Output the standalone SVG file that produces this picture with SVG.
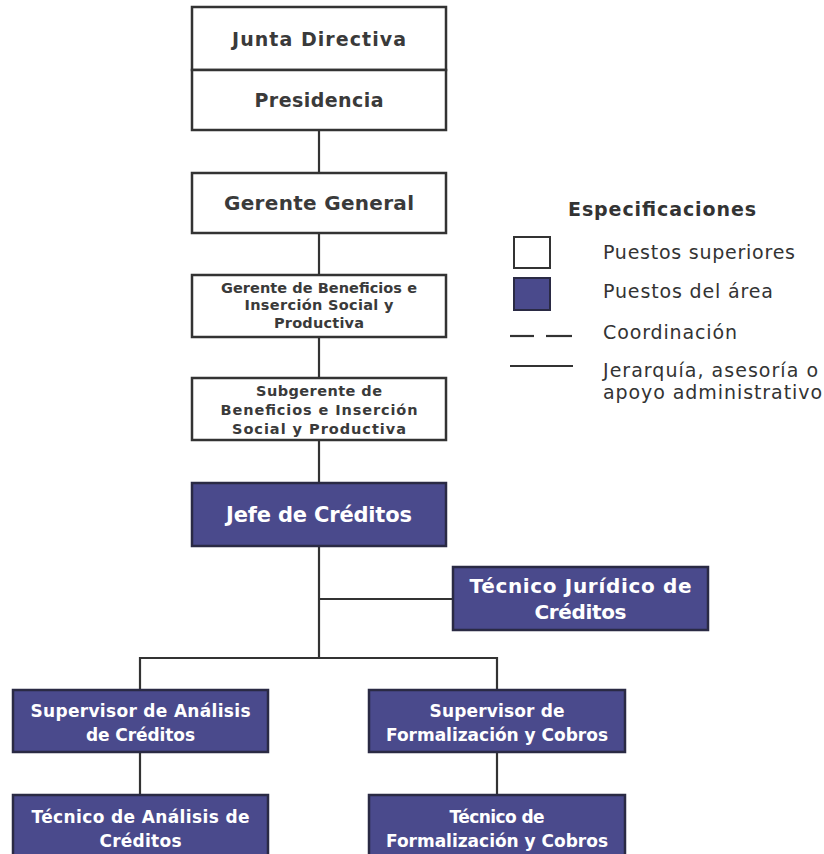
<svg xmlns="http://www.w3.org/2000/svg" width="824" height="854" viewBox="0 0 824 854">
<style>
.w{fill:#ffffff;stroke:#333333;stroke-width:2.5}
.b{fill:#4a4a8c;stroke:#2a2a44;stroke-width:2.5}
.tw{font-family:"DejaVu Sans","Liberation Sans",sans-serif;font-weight:bold;fill:#3a3a3a;text-anchor:middle}
.tb{font-family:"DejaVu Sans","Liberation Sans",sans-serif;font-weight:bold;fill:#ffffff;text-anchor:middle}
.lg{font-family:"DejaVu Sans","Liberation Sans",sans-serif;fill:#333333;font-size:19px}
.c{stroke:#333333;stroke-width:2.2;fill:none}
</style>
<rect width="824" height="854" fill="#ffffff"/>
<g id="connectors">
<line class="c" x1="319" y1="130" x2="319" y2="173"/>
<line class="c" x1="319" y1="233" x2="319" y2="275"/>
<line class="c" x1="319" y1="337" x2="319" y2="378"/>
<line class="c" x1="319" y1="440" x2="319" y2="483"/>
<line class="c" x1="319" y1="546" x2="319" y2="658"/>
<line class="c" x1="319" y1="599" x2="453" y2="599"/>
<line class="c" x1="140" y1="658" x2="497" y2="658"/>
<line class="c" x1="140" y1="657" x2="140" y2="690"/>
<line class="c" x1="497" y1="657" x2="497" y2="690"/>
<line class="c" x1="140" y1="752" x2="140" y2="795"/>
<line class="c" x1="497" y1="752" x2="497" y2="795"/>
</g>
<g id="junta">
<rect class="w" x="192" y="7" width="254" height="63"/>
<text class="tw" x="319" y="46" font-size="19" textLength="174" lengthAdjust="spacing">Junta Directiva</text>
</g>
<g id="presidencia">
<rect class="w" x="192" y="70" width="254" height="60"/>
<text class="tw" x="319" y="107" font-size="19" textLength="129" lengthAdjust="spacing">Presidencia</text>
</g>
<g id="gerente-general">
<rect class="w" x="192" y="173" width="254" height="60"/>
<text class="tw" x="319" y="210" font-size="20" textLength="190" lengthAdjust="spacing">Gerente General</text>
</g>
<g id="gerente-beneficios">
<rect class="w" x="192" y="275" width="254" height="62"/>
<text class="tw" x="319" y="293" font-size="14.5" textLength="196" lengthAdjust="spacing">Gerente de Beneficios e</text>
<text class="tw" x="319" y="310" font-size="14.5" textLength="149" lengthAdjust="spacing">Inserción Social y</text>
<text class="tw" x="319" y="328" font-size="14.5" textLength="90" lengthAdjust="spacing">Productiva</text>
</g>
<g id="subgerente">
<rect class="w" x="192" y="378" width="254" height="62"/>
<text class="tw" x="319" y="396" font-size="14.5" textLength="126" lengthAdjust="spacing">Subgerente de</text>
<text class="tw" x="319" y="415" font-size="14.5" textLength="197" lengthAdjust="spacing">Beneficios e Inserción</text>
<text class="tw" x="319" y="434" font-size="14.5" textLength="174" lengthAdjust="spacing">Social y Productiva</text>
</g>
<g id="jefe-creditos">
<rect class="b" x="192" y="483" width="254" height="63"/>
<text class="tb" x="319" y="522" font-size="21" textLength="186" lengthAdjust="spacing">Jefe de Créditos</text>
</g>
<g id="tecnico-juridico">
<rect class="b" x="453" y="567" width="255" height="63"/>
<text class="tb" x="580.5" y="593" font-size="20" textLength="222" lengthAdjust="spacing">Técnico Jurídico de</text>
<text class="tb" x="580.5" y="619" font-size="20" textLength="92" lengthAdjust="spacing">Créditos</text>
</g>
<g id="supervisor-analisis">
<rect class="b" x="13" y="690" width="255" height="62"/>
<text class="tb" x="140.5" y="717" font-size="17" textLength="220" lengthAdjust="spacing">Supervisor de Análisis</text>
<text class="tb" x="140.5" y="741" font-size="17" textLength="109" lengthAdjust="spacing">de Créditos</text>
</g>
<g id="supervisor-formalizacion">
<rect class="b" x="369" y="690" width="256" height="62"/>
<text class="tb" x="497" y="717" font-size="17" textLength="135" lengthAdjust="spacing">Supervisor de</text>
<text class="tb" x="497" y="741" font-size="17" textLength="222" lengthAdjust="spacing">Formalización y Cobros</text>
</g>
<g id="tecnico-analisis">
<rect class="b" x="13" y="795" width="255" height="64"/>
<text class="tb" x="140.5" y="823" font-size="17" textLength="218" lengthAdjust="spacing">Técnico de Análisis de</text>
<text class="tb" x="140.5" y="847" font-size="17" textLength="82" lengthAdjust="spacing">Créditos</text>
</g>
<g id="tecnico-formalizacion">
<rect class="b" x="369" y="795" width="256" height="64"/>
<text class="tb" x="497" y="823" font-size="17" textLength="95" lengthAdjust="spacing">Técnico de</text>
<text class="tb" x="497" y="847" font-size="17" textLength="222" lengthAdjust="spacing">Formalización y Cobros</text>
</g>
<g id="legend">
<text class="lg" x="568" y="216" font-weight="bold" font-size="18" textLength="188" lengthAdjust="spacing">Especificaciones</text>
<rect x="514" y="237" width="36" height="31" fill="#ffffff" stroke="#333333" stroke-width="2"/>
<rect x="514" y="278" width="36" height="32" fill="#4a4a8c" stroke="#2a2a44" stroke-width="2"/>
<line x1="510" y1="336" x2="534" y2="336" stroke="#333333" stroke-width="2.2"/>
<line x1="546" y1="336" x2="572" y2="336" stroke="#333333" stroke-width="2.2"/>
<line x1="510" y1="366" x2="573" y2="366" stroke="#333333" stroke-width="2.2"/>
<text class="lg" x="603" y="259" textLength="192" lengthAdjust="spacing">Puestos superiores</text>
<text class="lg" x="603" y="298" textLength="170" lengthAdjust="spacing">Puestos del área</text>
<text class="lg" x="603" y="339" textLength="134" lengthAdjust="spacing">Coordinación</text>
<text class="lg" x="603" y="377" textLength="215" lengthAdjust="spacing">Jerarquía, asesoría o</text>
<text class="lg" x="603" y="399" textLength="219" lengthAdjust="spacing">apoyo administrativo</text>
</g>
</svg>
